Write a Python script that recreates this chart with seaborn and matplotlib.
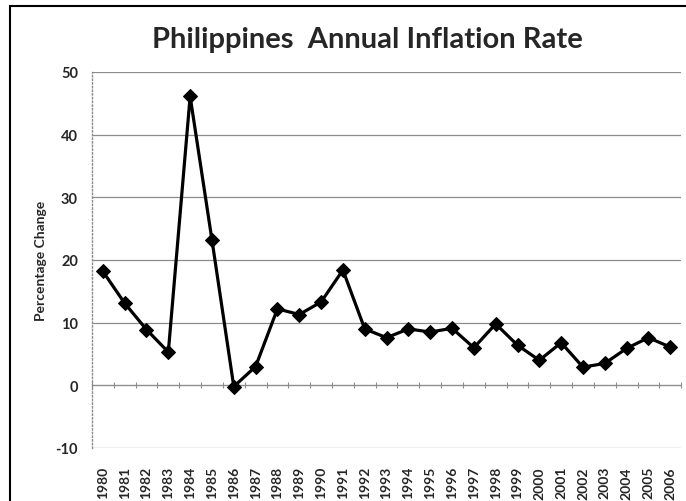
import numpy as np
import pandas as pd
import matplotlib
matplotlib.use("Agg")
import matplotlib.pyplot as plt
import seaborn as sns

# data
years = list(range(1980, 2007))
inflation = [18.2, 13.1, 8.9, 5.3, 46.1, 23.2, -0.2, 3.0, 12.2, 11.3, 13.3, 18.4,
             9.0, 7.6, 9.0, 8.5, 9.1, 6.0, 9.8, 6.4, 4.0, 6.8, 2.9, 3.5, 5.9, 7.6, 6.1]
yticks = [-10, 0, 10, 20, 30, 40, 50]

df = pd.DataFrame({"year": years, "rate": inflation})

sns.set_style("white")
plt.rcParams['font.family'] = ['Lato', 'DejaVu Sans']

fig = plt.figure(figsize=(6.86, 5.02), dpi=100)
ax = fig.add_axes([0.134, 0.1056, 0.859, 0.749])

for t in yticks:
    ax.axhline(t, color='#8c8c8c', linewidth=0.9, zorder=0)

sns.lineplot(data=df, x="year", y="rate", ax=ax, color='black', linewidth=2.3,
             marker='D', markersize=7, markeredgecolor='black', zorder=3)

ax.set_xlim(years[0] - 0.5, years[-1] + 0.5)
ax.set_ylim(-10, 50)
ax.set_yticks(yticks)
ax.set_xticks(years)
ax.set_xticklabels([str(y) for y in years], rotation=90, fontsize=10, fontweight='bold')
ax.set_yticklabels([str(t) for t in yticks], fontsize=10.5, fontweight='bold')
ax.tick_params(axis='x', length=0, pad=13)
ax.tick_params(axis='y', length=0, pad=10)

ax.set_xlabel('')
ax.set_ylabel('Percentage Change', fontsize=10, fontweight='bold', labelpad=6)

for s in ['top', 'right', 'bottom']:
    ax.spines[s].set_visible(False)
ax.spines['left'].set_color('#8c8c8c')
ax.spines['left'].set_linestyle(':')
ax.spines['left'].set_linewidth(1)

# horizontal axis crosses at zero, with tick marks between categories
zero_pos = (0 - (-10)) / (50 - (-10))
ax0 = ax.secondary_xaxis(zero_pos)
ax0.set_xticks([y - 0.5 for y in years] + [years[-1] + 0.5])
ax0.tick_params(axis='x', direction='inout', length=4, width=0.8, color='#8c8c8c',
                labelbottom=False, labeltop=False, top=False, bottom=True)
ax0.spines['bottom'].set_color('#8c8c8c')
ax0.spines['top'].set_visible(False)
ax0.set_xticklabels([])

fig.text(0.535, 0.92, 'Philippines  Annual Inflation Rate', ha='center', va='center',
         fontsize=21, fontweight='bold')

# chart frame
frame = plt.Rectangle((10 / 686, -0.05), 1.1, (502 - 7) / 502 + 0.05,
                      transform=fig.transFigure, fill=False, edgecolor='black',
                      linewidth=1.5)
fig.patches.append(frame)

fig.savefig('out.png', dpi=100)
